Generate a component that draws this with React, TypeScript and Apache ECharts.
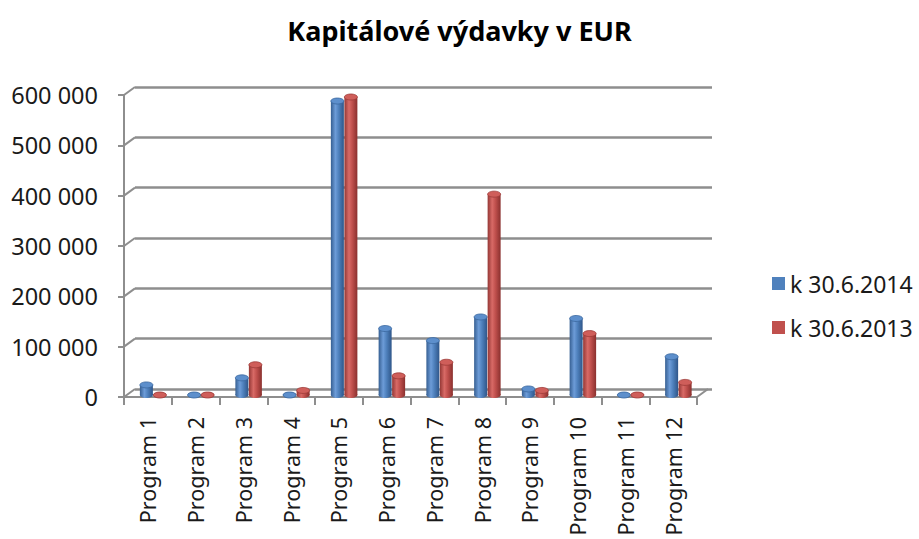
import React, { useEffect, useRef } from "react";
import * as echarts from "echarts";

const categories = [
  "Program 1", "Program 2", "Program 3", "Program 4", "Program 5", "Program 6",
  "Program 7", "Program 8", "Program 9", "Program 10", "Program 11", "Program 12",
];
const values2014 = [26000, 1000, 40000, 2000, 590000, 138000, 114000, 161000, 18000, 158000, 1000, 82000];
const values2013 = [2000, 1000, 66000, 15000, 598000, 44000, 71000, 405000, 15000, 128000, 1000, 31000];
const yTicks = [0, 100000, 200000, 300000, 400000, 500000, 600000];
const seriesNames = ["k 30.6.2014", "k 30.6.2013"];
const titleText = "Kapitálové výdavky v EUR";

const FONT = "Noto Sans";
const GRID_COLOR = "#8e8e8e";
const DEPTH_X = 11;
const DEPTH_Y = -8;

const fmt = (v: number) => String(v).replace(/\B(?=(\d{3})+(?!\d))/g, " ");

const palettes = [
  { base: "#4F81BD", l: "#365f92", m: "#6d9cd8", r: "#2f5689", top: "#5d8fcc", rim: "#3a679e" },
  { base: "#C0504D", l: "#943735", m: "#d86a66", r: "#8a302e", top: "#cf5e5a", rim: "#9c3a37" },
];

function cylinder(seriesIdx: number) {
  const p = palettes[seriesIdx];
  const offset = seriesIdx === 0 ? -1.5 : 12;
  return (params: any, api: any) => {
    const i = api.value(0);
    const v = api.value(1);
    const base = api.coord([i, 0]);
    const top = api.coord([i, v]);
    const w = 13;
    const ry = 3;
    const cx = base[0] + offset;
    const yBase = base[1] - 2;
    let yTop = top[1] - 2 + ry;
    if (yTop > yBase) yTop = yBase;
    const grad = new echarts.graphic.LinearGradient(0, 0, 1, 0, [
      { offset: 0, color: p.l },
      { offset: 0.35, color: p.m },
      { offset: 0.6, color: p.base },
      { offset: 1, color: p.r },
    ]);
    return {
      type: "group",
      children: [
        { type: "ellipse", shape: { cx, cy: yBase, rx: w / 2, ry }, style: { fill: grad } },
        { type: "rect", shape: { x: cx - w / 2, y: yTop, width: w, height: yBase - yTop }, style: { fill: grad } },
        { type: "ellipse", shape: { cx, cy: yTop, rx: w / 2, ry }, style: { fill: p.top, stroke: p.rim, lineWidth: 0.8 } },
      ],
    };
  };
}

export default function App() {
  const ref = useRef<HTMLDivElement>(null);
  useEffect(() => {
    if (!ref.current) return;
    const chart = echarts.init(ref.current, undefined, { renderer: "svg" });
    chart.setOption({
      animation: false,
      backgroundColor: "#ffffff",
      title: {
        text: titleText,
        left: "center",
        top: 12,
        textStyle: { fontFamily: FONT, fontSize: 27, fontWeight: "bold", color: "#000" },
      },
      legend: {
        orient: "vertical",
        left: 767,
        top: 267,
        itemWidth: 13,
        itemHeight: 13,
        itemGap: 21,
        icon: "rect",
        data: seriesNames,
        textStyle: { fontFamily: FONT, fontSize: 23, color: "#1a1a1a" },
      },
      grid: [
        { left: 124, top: 95, width: 573, height: 302 },
        { left: 124 + DEPTH_X, top: 95 + DEPTH_Y, width: 577, height: 302 },
      ],
      xAxis: [
        {
          type: "category",
          gridIndex: 0,
          data: categories,
          axisLine: { lineStyle: { color: GRID_COLOR, width: 2 } },
          axisTick: { show: true, length: 8, lineStyle: { color: GRID_COLOR, width: 2 } },
          axisLabel: { rotate: 90, margin: 20, fontFamily: FONT, fontSize: 21.5, color: "#1a1a1a", interval: 0 },
        },
        {
          type: "category",
          gridIndex: 1,
          data: categories,
          show: false,
        },
      ],
      yAxis: [
        {
          type: "value",
          gridIndex: 0,
          min: 0,
          max: 600000,
          interval: 100000,
          axisLine: { show: true, lineStyle: { color: GRID_COLOR, width: 2 } },
          axisTick: { show: true, length: 6, lineStyle: { color: GRID_COLOR, width: 2 } },
          axisLabel: { margin: 26, formatter: fmt, fontFamily: FONT, fontSize: 23.5, color: "#1a1a1a" },
          splitLine: { show: false },
        },
        {
          type: "value",
          gridIndex: 1,
          min: 0,
          max: 600000,
          interval: 100000,
          axisLine: { show: false },
          axisTick: { show: false },
          axisLabel: { show: false },
          splitLine: { show: true, lineStyle: { color: GRID_COLOR, width: 2.5 } },
        },
      ],
      series: [
        {
          type: "custom",
          name: "frame",
          xAxisIndex: 0,
          yAxisIndex: 0,
          silent: true,
          z: 1,
          data: yTicks.map((v) => [0, v]),
          encode: { x: 0, y: 1 },
          renderItem: (params: any, api: any) => {
            const cs = params.coordSys;
            const y = api.coord([0, api.value(1)])[1];
            const children: any[] = [
              {
                type: "line",
                shape: { x1: cs.x, y1: y, x2: cs.x + DEPTH_X, y2: y + DEPTH_Y },
                style: { stroke: GRID_COLOR, lineWidth: 2 },
              },
            ];
            if (params.dataIndex === 0) {
              children.push({
                type: "line",
                shape: { x1: cs.x + cs.width, y1: y, x2: cs.x + cs.width + DEPTH_X, y2: y + DEPTH_Y },
                style: { stroke: GRID_COLOR, lineWidth: 2 },
              });
            }
            return { type: "group", children };
          },
        },
        {
          type: "custom",
          name: seriesNames[0],
          xAxisIndex: 0,
          yAxisIndex: 0,
          z: 3,
          itemStyle: { color: palettes[0].base },
          data: values2014.map((v, i) => [i, v]),
          encode: { x: 0, y: 1 },
          renderItem: cylinder(0),
        },
        {
          type: "custom",
          name: seriesNames[1],
          xAxisIndex: 0,
          yAxisIndex: 0,
          z: 3,
          itemStyle: { color: palettes[1].base },
          data: values2013.map((v, i) => [i, v]),
          encode: { x: 0, y: 1 },
          renderItem: cylinder(1),
        },
      ],
    });
    return () => chart.dispose();
  }, []);
  return <div ref={ref} style={{ position: "absolute", left: 0, top: 0, width: 919, height: 539 }} />;
}
